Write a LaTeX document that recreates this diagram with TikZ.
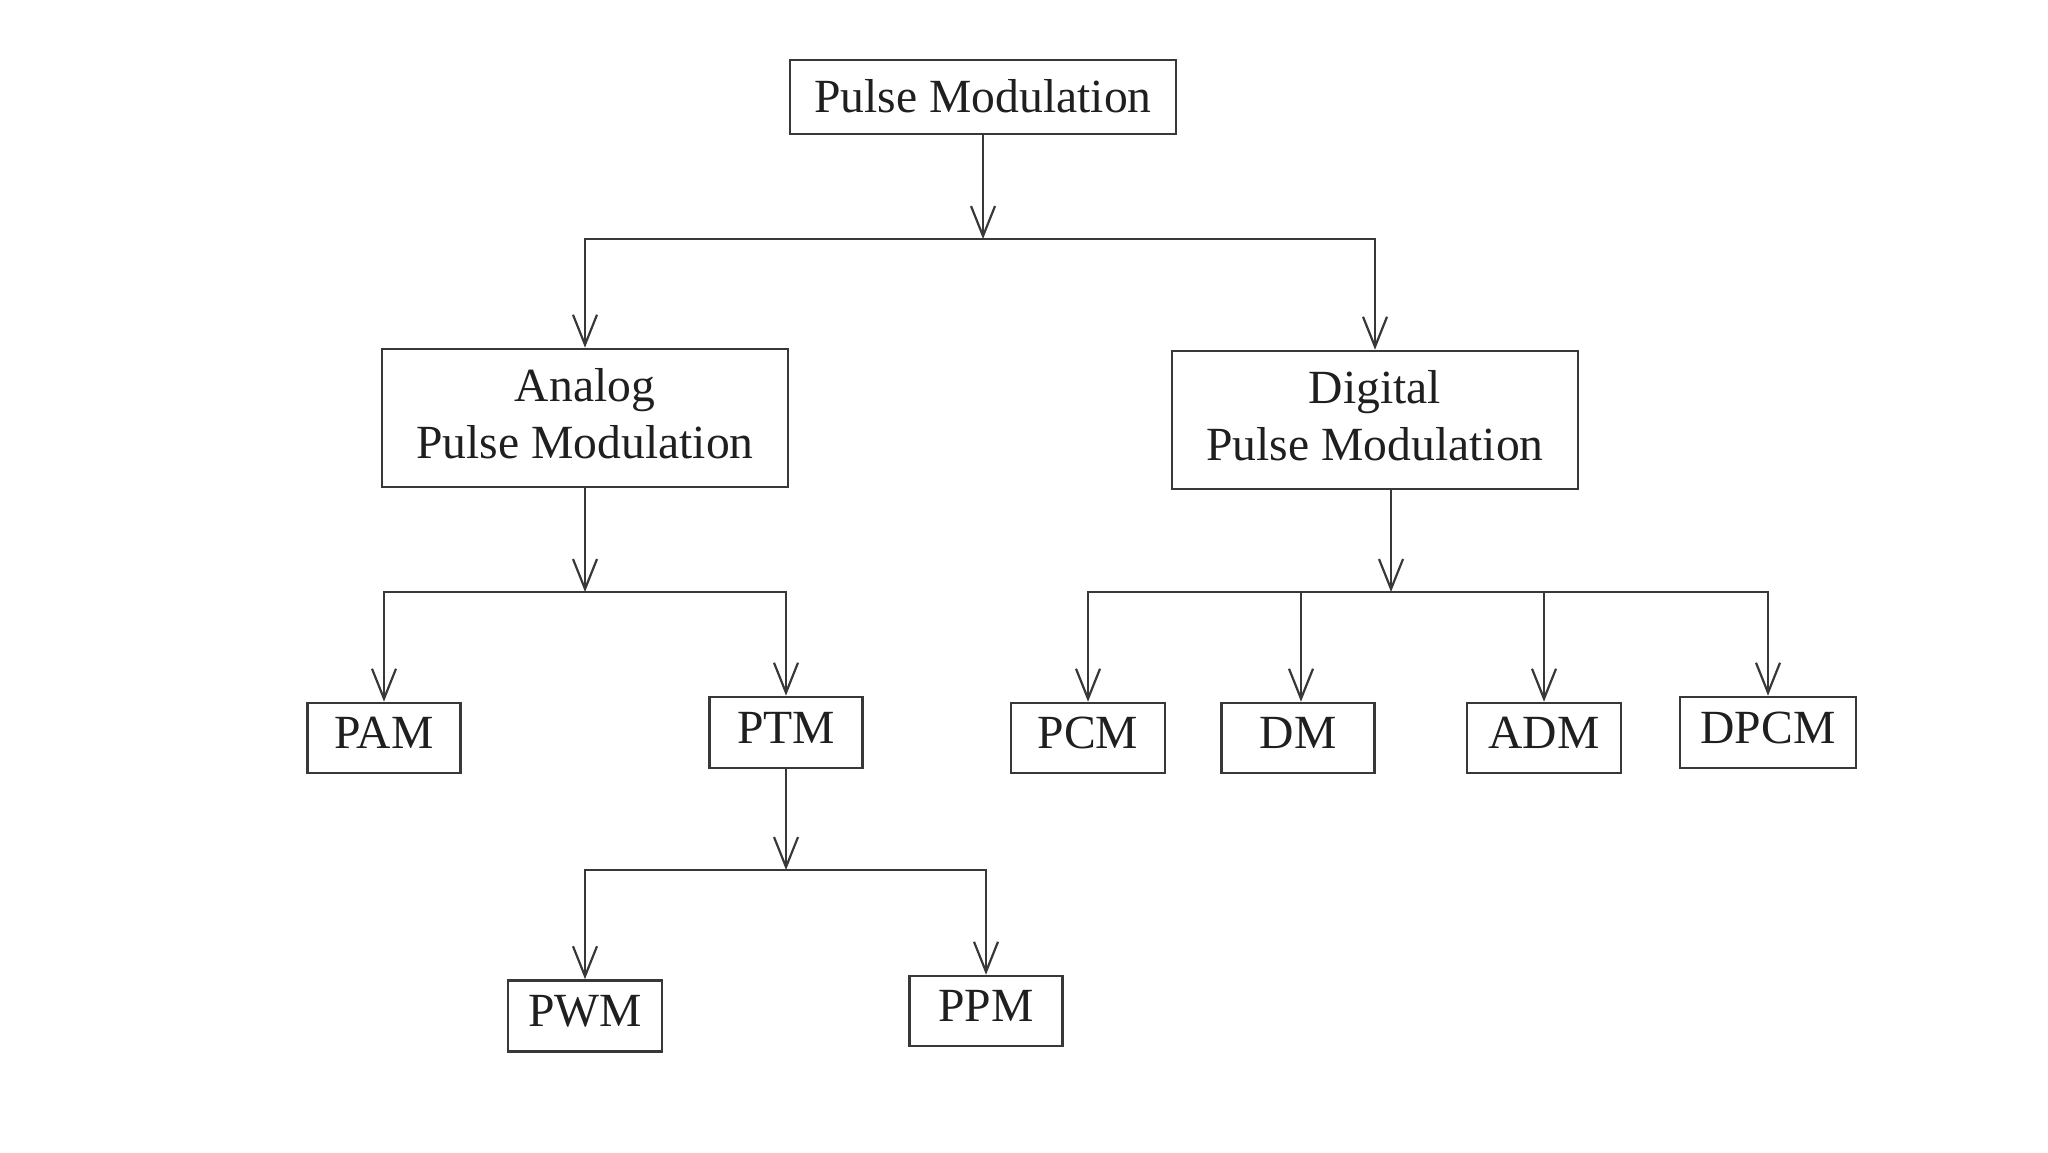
\documentclass[tikz,border=0pt]{standalone}
\usepackage{fontspec}
\setmainfont{Liberation Serif}
\usepackage{tikz}
\usetikzlibrary{arrows.meta,calc}

\begin{document}
\begin{tikzpicture}[x=0.5pt, y=-0.5pt, >={Straight Barb[length=15pt,width=12pt]}, line width=1.1pt, draw=black!78]

    \tikzstyle{pmb} = [rectangle, draw=black!78, line width=1.3pt, inner sep=0pt, text=black!88, align=center, font=\fontsize{23.8}{28.5}\selectfont, text depth=5pt, minimum width=76.5pt, minimum height=35pt]

    \useasboundingbox (0,0) rectangle (2048,1152);

    \node (pulse)   [pmb, minimum width=193pt, minimum height=37pt, text depth=1pt] at (983,97) {Pulse Modulation};

    \node (analog)  [pmb, minimum width=203pt, minimum height=69pt] at (585,418)   {Analog\\Pulse Modulation};
    \node (digital) [pmb, minimum width=203pt, minimum height=69pt] at (1375,420)  {Digital\\Pulse Modulation};

    \node (pam)     [pmb]                          at (384,738)  {PAM};
    \node (ptm)     [pmb, minimum height=35.5pt]   at (786,732.5) {PTM};
    \node (pcm)     [pmb, minimum width=77pt]      at (1088,738) {PCM};
    \node (dm)      [pmb]                          at (1298,738) {DM};
    \node (adm)     [pmb, minimum width=77pt]      at (1544,738) {ADM};
    \node (dpcm)    [pmb, minimum width=88pt, minimum height=35.5pt] at (1768,732.5) {DPCM};

    \node (pwm)     [pmb, minimum width=77pt, minimum height=35.5pt] at (585,1016) {PWM};
    \node (ppm)     [pmb]                          at (986,1011) {PPM};

    % bus junctions
    \coordinate (top bus)  at (983,239);
    \coordinate (ana bus)  at (585,592);
    \coordinate (dig bus)  at (1391,592);
    \coordinate (ptm bus)  at (786,870);

    \draw[->] (pulse)  -- (top bus);
    \draw[->] (top bus) -| (analog);
    \draw[->] (top bus) -| (digital);

    \draw[->] (analog) -- (ana bus);
    \draw[->] (ana bus) -| (pam);
    \draw[->] (ana bus) -| (ptm);

    \draw[->] ([xshift=8pt]digital.south) -- (dig bus);
    \draw[->] (dig bus) -| (pcm);
    \draw[->] (dig bus) -| ([xshift=1.5pt]dm.north);
    \draw[->] (dig bus) -| (adm);
    \draw[->] (dig bus) -| (dpcm);

    \draw[->] (ptm) -- (ptm bus);
    \draw[->] (ptm bus) -| (pwm);
    \draw[->] (ptm bus) -| (ppm);
\end{tikzpicture}
\end{document}
